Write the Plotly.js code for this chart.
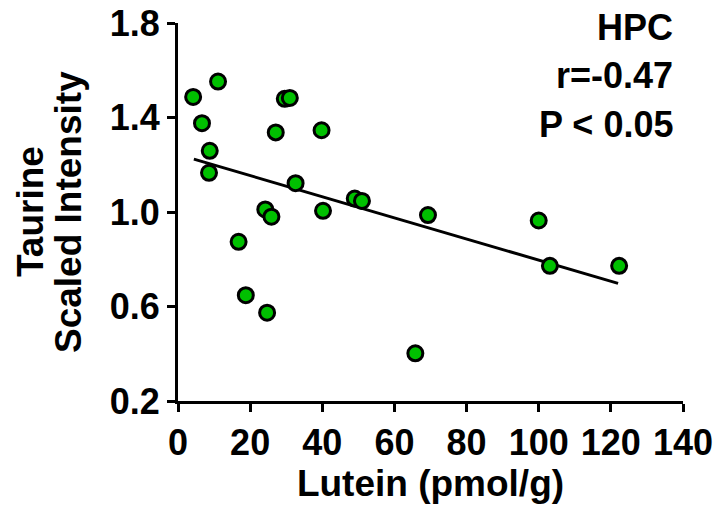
<!DOCTYPE html>
<html>
<head>
<meta charset="utf-8">
<script src="https://cdn.plot.ly/plotly-3.0.1.min.js"></script>
<style>html,body{margin:0;padding:0;background:#fff;}#chart{width:716px;height:506px;}</style>
</head>
<body>
<div id="chart"></div>
<script>
// Lutein (pmol/g) vs Taurine scaled intensity
const lutein = [4.2, 11.1, 6.65, 8.8, 8.6, 29.6, 31.0, 27.1, 39.8, 32.6, 24.2, 25.9, 40.2, 49.0, 51.0, 69.3, 16.8, 18.8, 24.7, 65.8, 100.0, 103.1, 122.3];
const taurine = [1.487, 1.552, 1.376, 1.259, 1.166, 1.479, 1.483, 1.337, 1.346, 1.122, 1.011, 0.980, 1.005, 1.057, 1.047, 0.987, 0.874, 0.648, 0.574, 0.402, 0.964, 0.772, 0.772];
// regression line end points
const fitX = [4.4, 122.0];
const fitY = [1.224, 0.698];
const xTicks = [0, 20, 40, 60, 80, 100, 120, 140];
const yTicks = [0.2, 0.6, 1.0, 1.4, 1.8];
const yTickText = ["0.2", "0.6", "1.0", "1.4", "1.8"];
const statLines = ["HPC", "r=-0.47", "P < 0.05"];

const FONT = "Liberation Sans, Arial, sans-serif";

const traces = [
  {
    x: fitX, y: fitY, type: "scatter", mode: "lines",
    line: {color: "#000", width: 3}, hoverinfo: "skip", showlegend: false
  },
  {
    x: lutein, y: taurine, type: "scatter", mode: "markers",
    marker: {color: "#00c000", size: 15, line: {color: "#000", width: 3}},
    showlegend: false
  }
];

// pixel centres of the three stat lines (from top of figure)
const annY = [27, 75, 124];
const annotations = statLines.map((t, i) => ({
  text: "<b>" + t + "</b>", xref: "paper", yref: "paper",
  x: 1, xshift: -8, xanchor: "right",
  y: 1, yshift: 23 - annY[i], yanchor: "middle",
  showarrow: false, font: {family: FONT, size: 36, color: "#000"}
}));
// y-axis title lines
annotations.push({
  text: "<b>Taurine</b>", xref: "paper", yref: "paper", x: 0, xshift: -148, xanchor: "center",
  y: 0.5, yanchor: "middle", textangle: -90, showarrow: false,
  font: {family: FONT, size: 37, color: "#000"}
});
annotations.push({
  text: "<b>Scaled Intensity</b>", xref: "paper", yref: "paper", x: 0, xshift: -110, xanchor: "center",
  y: 0.5, yanchor: "middle", textangle: -90, showarrow: false,
  font: {family: FONT, size: 37, color: "#000"}
});

const layout = {
  width: 716, height: 506,
  margin: {l: 178, r: 33, t: 23, b: 105},
  paper_bgcolor: "#fff", plot_bgcolor: "#fff",
  font: {family: FONT, color: "#000"},
  xaxis: {
    range: [0, 140], tickvals: xTicks, ticktext: xTicks.map(String),
    showgrid: false, zeroline: false, showline: true, linecolor: "#000", linewidth: 3,
    ticks: "outside", ticklen: 8, tickwidth: 3, tickcolor: "#000",
    tickfont: {family: FONT, size: 36, color: "#000", weight: "bold"},
    title: {text: "<b>Lutein (pmol/g)</b>", font: {family: FONT, size: 37, color: "#000"}, standoff: 8}
  },
  yaxis: {
    range: [0.2, 1.8], tickvals: yTicks, ticktext: yTickText,
    showgrid: false, zeroline: false, showline: true, linecolor: "#000", linewidth: 3,
    ticks: "outside", ticklen: 8, tickwidth: 3, tickcolor: "#000",
    tickfont: {family: FONT, size: 36, color: "#000", weight: "bold"}
  },
  annotations: annotations
};

Plotly.newPlot("chart", traces, layout, {displayModeBar: false, staticPlot: true});
</script>
</body>
</html>
